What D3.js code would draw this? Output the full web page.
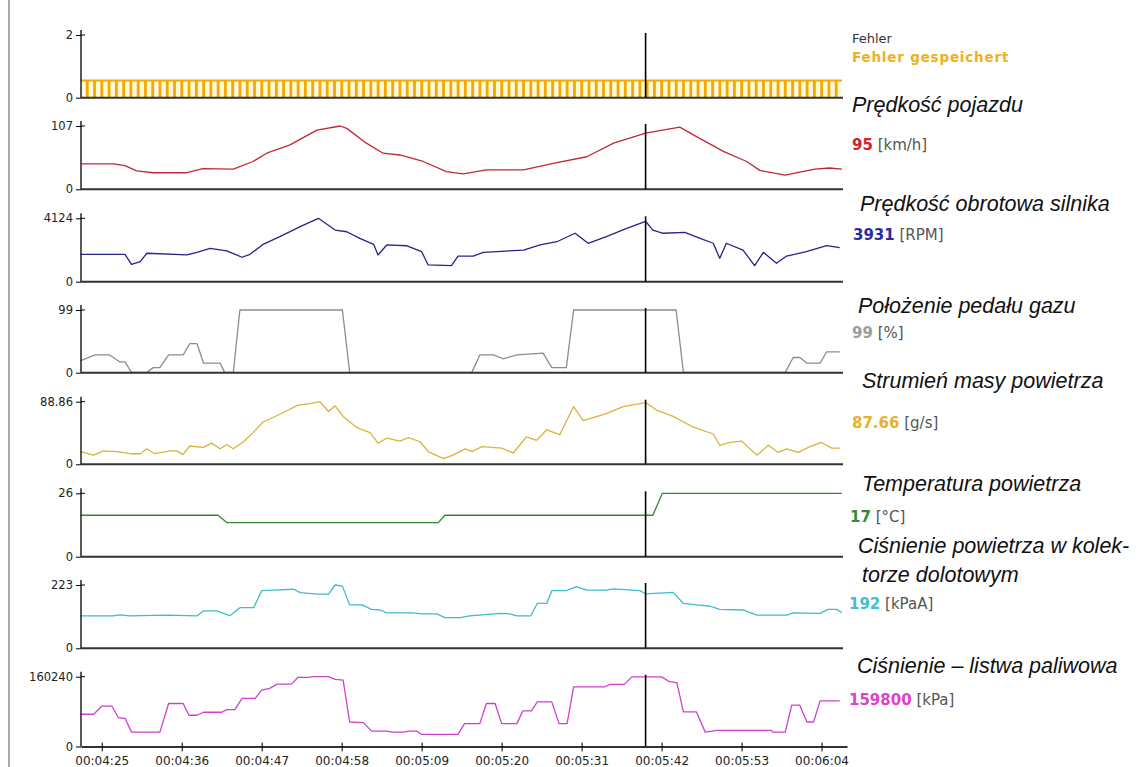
<!DOCTYPE html>
<html>
<head>
<meta charset="utf-8">
<script src="https://cdn.jsdelivr.net/npm/d3@7"></script>
<style>
  body { margin: 0; background: #fff; }
  svg { display: block; }
</style>
</head>
<body>
<div id="chart"></div>
<script>
// ---- data (time in seconds of the log) ----
var timeTicks = [265, 276, 287, 298, 309, 320, 331, 342, 353, 364];
var cursorTime = 339.8;

var signalNames = ["Fehler", "Prędkość pojazdu", "Prędkość obrotowa silnika", "Położenie pedału gazu",
  "Strumień masy powietrza", "Temperatura powietrza", "Ciśnienie powietrza w kolek-|torze dolotowym",
  "Ciśnienie – listwa paliwowa"];
var units = ["", "km/h", "RPM", "%", "g/s", "°C", "kPaA", "kPa"];
var currentValues = ["", "95", "3931", "99", "87.66", "17", "192", "159800"];
var axisMax = [2, 107, 4124, 99, 88.86, 26, 223, 160240];
var axisMaxLabels = ["2", "107", "4124", "99", "88.86", "26", "223", "160240"];

// Fehler gespeichert: stored fault flag, sampled every second
var faultStoredLevel = 0.55;
var faultStoredT = d3.range(263, 367);

var speedT = [262.2,266.6,268.2,269.8,272.1,276.7,278.9,283.1,285.8,287.7,290.9,294.6,297.8,298.7,301.4,303.7,306.0,309.2,312.4,314.7,317.9,323.0,327.1,331.7,335.4,339.8,344.5,346.8,350.5,353.7,355.5,359.0,361.0,363.1,365.1,366.8];
var speedV = [43,43,40,31,28,28,35,34,47,61,75,100,107,103,78,61,58,47,30,26,33,33,44,55,78,95,105,89,64,47,32,24,29,34,36,34];

var rpmT = [262.1,268.2,269.1,270.3,271.2,276.7,278.1,279.9,282.2,284.3,285.4,287.2,289.5,292.3,294.8,297.1,298.7,300.5,302.4,303.0,304.2,306.9,309.0,309.9,313.1,314.0,316.1,317.5,323.0,325.3,327.6,330.1,331.9,334.4,337.2,339.8,340.8,342.2,345.2,347.3,349.1,350.0,350.9,353.2,354.8,356.0,357.8,359.2,361.9,364.7,366.5];
var rpmV = [1780,1780,1130,1300,1850,1740,1910,2170,2000,1590,1780,2430,2930,3580,4124,3360,3250,2820,2430,1740,2390,2340,1950,1090,1040,1670,1670,1910,2060,2390,2600,3150,2500,2930,3470,3931,3360,3150,3210,2820,2500,1520,2500,2060,1040,1910,1200,1670,1950,2340,2210];

var pedalT = [262.1,264.1,266.1,267.5,268.2,269.1,271.2,272.1,273.0,274.2,276.2,277.1,278.1,279.0,281.3,281.9,283.1,284.0,298.1,299.1,315.9,317.0,318.9,320.2,322.1,325.7,326.9,328.9,329.9,344.0,345.0,359.0,360.1,361.0,362.0,363.8,364.7,366.5];
var pedalV = [19,28,28,17,17,0.5,0.5,8,8,28,28,46,46,15,15,0.5,0.5,99,99,0.5,0.5,28,28,22,28,31,8,8,99,99,0.5,0.5,24,24,15,15,33,33];

var mafT = [262.1,263.9,265.2,267.1,268.9,270.3,271.2,272.3,274.4,275.3,276.2,277.1,279.0,280.1,281.3,282.2,283.1,284.5,285.9,287.2,289.5,292.0,293.6,295.0,296.2,297.1,298.2,300.1,301.9,303.0,304.2,306.0,307.2,308.8,309.9,312.0,313.3,315.0,315.9,317.3,320.0,321.6,323.4,324.8,326.2,328.0,329.9,331.2,334.4,336.7,339.8,341.3,343.6,346.3,349.1,350.0,351.4,353.0,355.1,356.7,358.0,359.2,360.8,362.4,364.0,365.4,366.5];
var mafV = [18,13,19,18,15,15,22,15,19,19,14,26,24,30,22,28,22,32,46,60,71,84,86,88.86,75,83,68,52,45,30,37,33,38,32,18,8,13,22,18,25,23,16,39,34,49,42,82,62,72,82,87.66,77,68,53,43,27,31,33,13,27,17,22,17,25,31,23,23];

var tempT = [262.1,281.0,282.2,311.3,312.2,340.8,342.1,366.8];
var tempV = [17,17,14,14,17,17,26,26];

var mapT = [262.1,266.6,267.5,268.9,273.9,276.7,278.1,279.0,280.8,282.6,284.0,285.9,287.0,288.6,291.4,292.3,294.6,296.2,297.1,298.1,299.1,300.8,302.1,303.3,304.2,307.8,309.0,311.1,312.2,314.3,315.6,319.8,321.1,322.1,324.0,324.9,326.2,326.9,328.9,330.3,331.7,334.4,335.4,339.0,339.8,343.6,345.0,346.8,348.6,350.0,353.2,355.1,359.2,360.1,363.8,364.9,366.1,366.8];
var mapV = [114,114,118,114,117,115,114,132,132,115,143,143,203,205,208,196,191,191,223,219,153,153,137,135,125,125,121,121,108,108,114,123,121,114,114,158,158,203,203,217,205,205,209,203,192,197,158,153,149,137,135,117,117,125,123,137,137,125];

var fuelT = [262.1,263.9,265.0,266.4,267.3,268.2,269.1,273.0,274.2,276.2,277.0,278.1,279.0,281.5,282.2,283.3,284.3,286.1,287.0,288.1,289.1,291.1,292.0,293.4,294.1,296.2,297.1,298.2,299.1,301.0,302.1,304.2,304.9,306.5,307.2,308.3,309.0,314.0,314.9,317.0,317.9,319.1,320.0,322.1,322.9,324.1,324.9,326.9,327.9,329.0,329.9,334.2,334.9,336.9,337.9,342.0,343.1,344.1,345.0,346.8,348.0,349.6,357.1,357.3,359.0,359.9,361.0,362.0,362.9,363.8,366.5];
var fuelV = [74000,74000,92500,92500,66000,64700,33000,33000,98700,98700,71700,71700,78600,78600,84800,84800,110300,110300,129500,133400,143300,143300,158800,158800,160240,160240,154200,152600,56200,54800,35400,35400,33000,33000,35400,35400,27700,27700,52500,52500,98700,98700,52500,52500,81600,81600,102400,102400,52500,52500,137100,137100,142600,142600,159800,159800,148700,146400,79300,79300,33000,37000,37000,33000,33000,94800,94800,56200,56200,104700,104700];

// ---- layout ----
var W = 1140, H = 767;
var panelTop  = [35, 126, 218.3, 310, 401.7, 493.3, 585, 676.7];
var panelZero = [97.7, 189.3, 281.7, 372.7, 464.3, 556.7, 648.3, 746.5];
var colors = ["#f2a900", "#c02838", "#24248a", "#8c8c8c", "#dcb23a", "#2e8b2e", "#3cbccc", "#d040d0"];
var valueColors = ["#f0b020", "#d4202c", "#2b2b9b", "#9c9c9c", "#e6b030", "#2e8b3a", "#3ec0d0", "#e040d0"];
// label positions: [x, baseline] for name and value
var nameLayout = [[852, 43], [852, 111.5], [860, 211], [858, 312.5], [862, 387.5], [862, 490.5], [858, 553], [857, 672.5]];
var valueLayout = [[852, 61.5], [852, 150], [853, 240], [852, 338], [852, 428], [850, 522], [849, 609], [849, 705]];

var series = [null,
  {t: speedT, v: speedV}, {t: rpmT, v: rpmV}, {t: pedalT, v: pedalV}, {t: mafT, v: mafV},
  {t: tempT, v: tempV}, {t: mapT, v: mapV}, {t: fuelT, v: fuelV}];

var svg = d3.select("#chart").append("svg")
    .attr("width", W)
    .attr("height", H);

var x = d3.scaleLinear().domain([262.15, 367.5]).range([81, 847]);

function fmtTime(s) {
  var m = Math.floor(s / 60), sec = s % 60;
  return "00:" + d3.format("02d")(m) + ":" + d3.format("02d")(sec);
}

// left window border
svg.append("line")
    .attr("x1", 9).attr("x2", 9).attr("y1", 0).attr("y2", H)
    .attr("stroke", "#a8a8a8").attr("stroke-width", 2);

panelTop.forEach(function(top, i) {
  var y = d3.scaleLinear().domain([0, axisMax[i]]).range([panelZero[i], top]);
  var g = svg.append("g");

  if (i === 0) {
    // stored fault: striped band
    g.append("rect")
        .attr("x", x(262.15)).attr("width", x(366.8) - x(262.15))
        .attr("y", y(faultStoredLevel)).attr("height", y(0) - y(faultStoredLevel))
        .attr("fill", "#fff8da");
    g.selectAll("rect.stripe")
      .data(faultStoredT)
      .enter().append("rect")
        .attr("class", "stripe")
        .attr("x", function(d) { return x(d) - 1.3; })
        .attr("width", 2.8)
        .attr("y", y(faultStoredLevel))
        .attr("height", y(0) - y(faultStoredLevel))
        .attr("fill", colors[0]);
    g.append("line")
        .attr("x1", x(262.15)).attr("x2", x(366.8))
        .attr("y1", y(faultStoredLevel)).attr("y2", y(faultStoredLevel))
        .attr("stroke", colors[0]).attr("stroke-width", 2);
  } else {
    var line = d3.line()
      .x(function(d) { return x(d[0]); })
      .y(function(d) { return y(d[1]); });
    var pts = series[i].t.map(function(t, k) { return [t, series[i].v[k]]; });
    g.append("path")
        .datum(pts)
        .attr("d", line)
        .attr("fill", "none")
        .attr("stroke", colors[i])
        .attr("stroke-width", 1.3)
        .attr("stroke-linejoin", "round");
  }

  // baseline
  if (i < 7) {
    g.append("line")
        .attr("x1", 81).attr("x2", 843)
        .attr("y1", y(0)).attr("y2", y(0))
        .attr("stroke", "#333").attr("stroke-width", 2);
  }

  // y axis
  var ax = g.append("g")
      .attr("transform", "translate(81,0)")
      .call(d3.axisLeft(y)
        .tickValues([0, axisMax[i]])
        .tickSize(5)
        .tickSizeOuter(0)
        .tickFormat(function(d) { return d === 0 ? "0" : axisMaxLabels[i]; }))
      .attr("font-family", "DejaVu Sans")
      .attr("font-size", 11.5);
  ax.select(".domain").remove();
  ax.selectAll("text").attr("fill", "#222");
  g.append("line")
      .attr("x1", 81).attr("x2", 81)
      .attr("y1", y(axisMax[i]) - 5).attr("y2", y(0))
      .attr("stroke", "#000").attr("stroke-width", 1.3);
  g.append("line")
      .attr("x1", 81).attr("x2", 85)
      .attr("y1", y(axisMax[i])).attr("y2", y(axisMax[i]))
      .attr("stroke", "#000");

  // cursor
  g.append("line")
      .attr("x1", x(cursorTime)).attr("x2", x(cursorTime))
      .attr("y1", y(axisMax[i]) - 2).attr("y2", y(0))
      .attr("stroke", "#000").attr("stroke-width", 1.6);
});

// time axis
var xa = svg.append("g")
    .attr("transform", "translate(0," + panelZero[7] + ")")
    .call(d3.axisBottom(x).tickValues(timeTicks).tickFormat(fmtTime).tickSize(5).tickPadding(5).tickSizeOuter(0))
    .attr("font-family", "DejaVu Sans")
    .attr("font-size", 12);
xa.select(".domain").attr("stroke", "#333").attr("stroke-width", 2);
xa.selectAll("text").attr("fill", "#222");
var xa2 = svg.append("g")
    .attr("transform", "translate(0," + panelZero[7] + ")")
    .call(d3.axisBottom(x).tickValues(timeTicks).tickFormat("").tickSize(-4).tickSizeOuter(0));
xa2.select(".domain").remove();

// right side labels
svg.append("text")
    .attr("x", nameLayout[0][0]).attr("y", nameLayout[0][1])
    .attr("font-family", "DejaVu Sans").attr("font-size", 13)
    .attr("fill", "#333")
    .text(signalNames[0]);
svg.append("text")
    .attr("x", valueLayout[0][0]).attr("y", valueLayout[0][1])
    .attr("font-family", "DejaVu Sans").attr("font-size", 13.5)
    .attr("font-weight", "bold").attr("letter-spacing", 0.8)
    .attr("fill", valueColors[0])
    .text("Fehler gespeichert");

for (var i = 1; i < 8; i++) {
  var parts = signalNames[i].split("|");
  parts.forEach(function(p, k) {
    svg.append("text")
        .attr("x", nameLayout[i][0] + (k > 0 ? 4 : 0))
        .attr("y", nameLayout[i][1] + k * 29)
        .attr("font-family", "Liberation Sans, Arial, sans-serif")
        .attr("font-style", "italic")
        .attr("font-size", 21.5)
        .attr("fill", "#111")
        .text(p);
  });
  var t = svg.append("text")
      .attr("x", valueLayout[i][0]).attr("y", valueLayout[i][1])
      .attr("font-family", "DejaVu Sans").attr("font-size", 15);
  t.append("tspan").attr("font-weight", "bold").attr("fill", valueColors[i]).text(currentValues[i]);
  t.append("tspan").attr("fill", "#555").text(" [" + units[i] + "]");
}
</script>
</body>
</html>
